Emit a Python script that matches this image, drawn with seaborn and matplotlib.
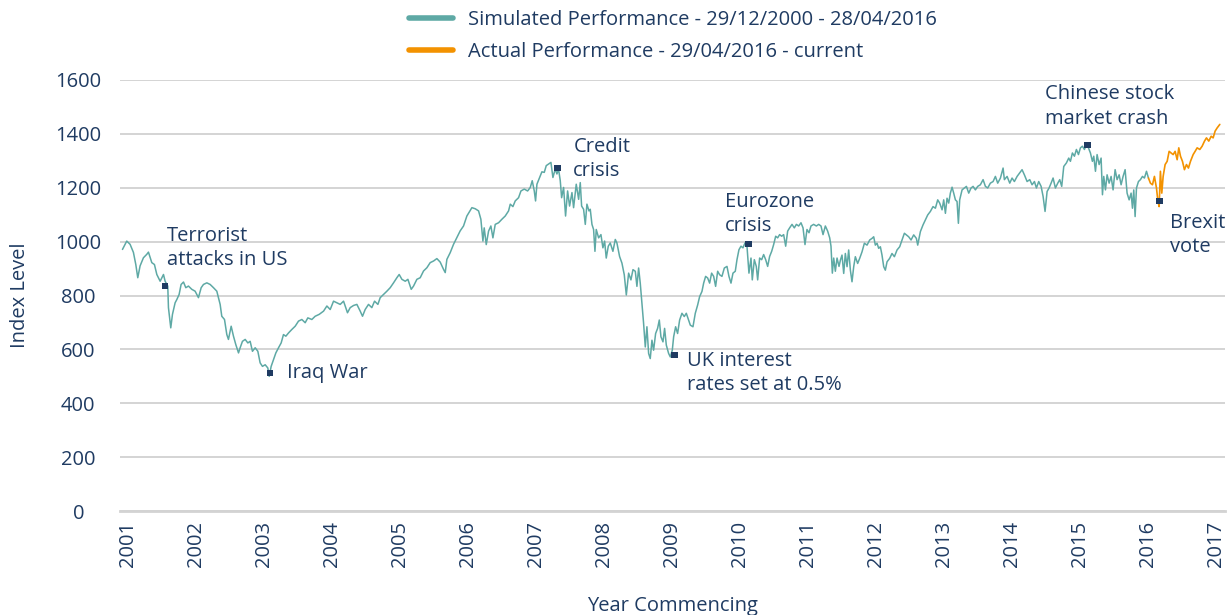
import numpy as np
import pandas as pd
import seaborn as sns
import matplotlib.pyplot as plt
from matplotlib.lines import Line2D

# index levels; t = position on the year axis (0 = "2001" tick)
sim_t = [-0.083, -0.020, 0.029, 0.078, 0.113, 0.142, 0.176, 0.225, 0.275, 0.299,
         0.348, 0.387, 0.422, 0.471, 0.520, 0.544, 0.583, 0.593, 0.627, 0.652,
         0.691, 0.716, 0.750, 0.779, 0.814, 0.848, 0.887, 0.936, 0.985, 1.034,
         1.074, 1.108, 1.157, 1.206, 1.255, 1.304, 1.353, 1.377, 1.417, 1.451,
         1.475, 1.515, 1.549, 1.583, 1.623, 1.647, 1.681, 1.721, 1.760, 1.794,
         1.828, 1.868, 1.907, 1.941, 1.975, 2.015, 2.054, 2.074, 2.103, 2.137,
         2.172, 2.211, 2.250, 2.284, 2.319, 2.358, 2.407, 2.456, 2.505, 2.554,
         2.603, 2.642, 2.701, 2.750, 2.809, 2.873, 2.922, 2.971, 3.020, 3.069,
         3.118, 3.167, 3.225, 3.265, 3.314, 3.363, 3.412, 3.446, 3.485, 3.534,
         3.583, 3.623, 3.672, 3.706, 3.755, 3.804, 3.853, 3.902, 3.951, 3.985,
         4.025, 4.074, 4.113, 4.162, 4.196, 4.245, 4.294, 4.343, 4.392, 4.441,
         4.490, 4.539, 4.588, 4.637, 4.662, 4.686, 4.735, 4.784, 4.833, 4.882,
         4.931, 4.980,
         5.054, 5.103, 5.152, 5.186, 5.216, 5.235, 5.265, 5.299, 5.333, 5.363,
         5.397, 5.446, 5.495, 5.544, 5.593, 5.618, 5.657, 5.691, 5.740, 5.775,
         5.824, 5.873, 5.912, 5.941, 5.971, 5.990, 6.010, 6.049, 6.083, 6.118,
         6.147, 6.181, 6.216, 6.245, 6.279, 6.304, 6.328, 6.353, 6.373, 6.402,
         6.431, 6.461, 6.490, 6.525, 6.549, 6.588, 6.623, 6.647, 6.667, 6.696,
         6.721, 6.745, 6.775, 6.794, 6.819, 6.843, 6.863, 6.882, 6.917, 6.951,
         6.980, 7.005, 7.029, 7.059, 7.088, 7.127, 7.162, 7.186, 7.225, 7.260,
         7.294, 7.324, 7.358, 7.392, 7.422, 7.456, 7.480, 7.505, 7.529, 7.554,
         7.578, 7.603, 7.627, 7.652, 7.676, 7.701, 7.725, 7.755, 7.784, 7.809,
         7.833, 7.863, 7.887, 7.912, 7.946, 7.971, 8.000, 8.020, 8.049, 8.078,
         8.108, 8.142, 8.176, 8.206, 8.240, 8.265, 8.304, 8.338, 8.373, 8.402,
         8.436, 8.461, 8.490, 8.520, 8.549, 8.578, 8.608, 8.637, 8.667, 8.696,
         8.730, 8.765, 8.804, 8.833, 8.863, 8.892, 8.926, 8.951, 8.980, 9.010,
         9.039, 9.069, 9.098, 9.127, 9.157, 9.176, 9.206, 9.235, 9.255, 9.284,
         9.314, 9.343, 9.373, 9.402, 9.431, 9.461, 9.490, 9.520, 9.549, 9.578,
         9.608, 9.637, 9.667, 9.696, 9.725, 9.760, 9.794, 9.824, 9.858, 9.892,
         9.922, 9.951, 9.980, 10.010, 10.039, 10.078, 10.118, 10.152, 10.186, 10.216,
         10.250, 10.284, 10.314, 10.333, 10.353, 10.373, 10.397, 10.422, 10.451,
         10.471, 10.495, 10.520, 10.544, 10.569, 10.593, 10.618, 10.642, 10.667, 10.691,
         10.725, 10.755, 10.789, 10.824, 10.863, 10.902, 10.936, 10.961, 10.985, 11.010,
         11.034, 11.059, 11.083, 11.108, 11.132, 11.157, 11.196, 11.230, 11.265, 11.304,
         11.343, 11.377, 11.412, 11.441, 11.475, 11.510, 11.549, 11.588, 11.608, 11.647,
         11.686, 11.721, 11.755, 11.794, 11.833, 11.868, 11.902, 11.931, 11.966, 11.990,
         12.015, 12.039, 12.064, 12.088, 12.113, 12.137, 12.162, 12.186, 12.206, 12.225,
         12.260, 12.294, 12.324, 12.358, 12.392, 12.422, 12.456, 12.490, 12.529, 12.569,
         12.603, 12.637, 12.676, 12.716, 12.750, 12.784, 12.824, 12.863, 12.882, 12.922,
         12.961, 12.995, 13.029, 13.069, 13.108, 13.142, 13.176, 13.216, 13.255, 13.289,
         13.324, 13.353, 13.387, 13.422, 13.451, 13.480, 13.510, 13.539, 13.569, 13.598,
         13.632, 13.667, 13.696, 13.725, 13.755, 13.794, 13.828, 13.853, 13.882, 13.912,
         13.941, 13.971, 14.000, 14.029, 14.059, 14.088, 14.118, 14.147, 14.176, 14.196,
         14.221, 14.245, 14.275, 14.304, 14.324, 14.343, 14.368, 14.392, 14.422, 14.451,
         14.480, 14.510, 14.539, 14.569, 14.598, 14.627, 14.657, 14.686, 14.716, 14.745,
         14.765, 14.784, 14.804, 14.824, 14.853, 14.882, 14.912, 14.941, 14.971, 15.000]
sim_level = [971, 1002, 990, 960, 915, 866, 910, 940, 953, 961,
             922, 915, 878, 853, 878, 853, 835, 755, 680, 730,
             773, 785, 804, 841, 850, 829, 835, 823, 816, 792,
             829, 841, 847, 841, 829, 816, 767, 723, 711, 655,
             637, 686, 649, 618, 587, 606, 630, 637, 624, 630,
             593, 606, 593, 550, 537, 543, 531, 500, 537, 562,
             587, 606, 624, 655, 649, 661, 674, 686, 705, 711,
             699, 717, 711, 723, 730, 742, 761, 748, 779, 773,
             767, 779, 736, 755, 763, 767, 742, 723, 748, 767,
             755, 779, 767, 792, 804, 816, 829, 847, 866, 878,
             860, 853, 860, 823, 835, 860, 866, 891, 903, 922,
             928, 937, 924, 897, 885, 934, 959, 990, 1015, 1040,
             1058, 1095,
             1126, 1122, 1114, 1083, 1002, 1051, 989, 1039, 1058, 1014,
             1064, 1070, 1083, 1095, 1114, 1139, 1130, 1151, 1163, 1188,
             1195, 1188, 1201, 1226, 1188, 1151, 1213, 1238, 1259, 1257,
             1282, 1288, 1294, 1238, 1269, 1251, 1269, 1226, 1163, 1201,
             1095, 1188, 1132, 1182, 1126, 1213, 1157, 1219, 1132, 1120,
             1064, 1139, 1114, 1120, 1064, 1045, 964, 1045, 1014, 1026,
             977, 1002, 939, 983, 995, 964, 1008, 995, 945, 920,
             877, 802, 883, 858, 896, 890, 834, 902, 846, 771,
             697, 609, 684, 585, 566, 634, 597, 659, 678, 709,
             647, 628, 678, 616, 585, 572, 597, 647, 684, 659,
             709, 734, 722, 734, 709, 690, 684, 734, 765, 796,
             815, 846, 871, 865, 846, 883, 871, 834, 890, 877,
             871, 902, 908, 871, 846, 883, 890, 933, 970, 983,
             977, 995, 983, 883, 939, 858, 933, 908, 858, 939,
             933, 952, 933, 908, 945, 964, 989, 1020, 1014, 1026,
             1020, 1026, 983, 1039, 1051, 1064, 1051, 1064, 1058, 1070,
             1051, 989, 1045, 1033, 1058, 1064, 1058, 1064, 1058, 1026,
             1058, 1039, 1014, 983, 883, 939, 890, 939, 908,
             931, 950, 882, 956, 907, 969, 894, 851, 907, 944,
             919, 938, 962, 994, 987, 1006, 1012, 1018, 987, 994,
             975, 981, 950, 907, 894, 925, 938, 956, 944, 969,
             981, 1006, 1031, 1025, 1018, 1006, 1025, 1012, 987, 1037,
             1062, 1081, 1099, 1112, 1130, 1124, 1155, 1143, 1118, 1155,
             1105, 1161, 1143, 1180, 1202, 1180, 1155, 1149, 1068, 1155,
             1192, 1199, 1205, 1180, 1199, 1205, 1192, 1205, 1211, 1230,
             1205, 1199, 1217, 1223, 1242, 1217, 1236, 1273, 1230, 1242,
             1217, 1236, 1223, 1242, 1255, 1267, 1248, 1223, 1230, 1211,
             1223, 1199, 1223, 1205, 1168, 1112, 1186, 1199, 1217, 1236,
             1199, 1217, 1230, 1205, 1279, 1292, 1310, 1298, 1329, 1317,
             1342, 1323, 1348, 1354, 1342, 1360, 1348, 1329, 1298, 1317,
             1261, 1323, 1286, 1310, 1174, 1242, 1192, 1248, 1217, 1242,
             1192, 1267, 1230, 1248, 1211, 1242, 1267, 1180, 1155, 1180,
             1124, 1192, 1093, 1199, 1223, 1230, 1242, 1236, 1261, 1236]

act_t = [15.000, 15.029, 15.059, 15.088, 15.118, 15.137, 15.157, 15.176, 15.196, 15.216,
         15.245, 15.275, 15.304, 15.333, 15.363, 15.392, 15.422, 15.446, 15.471, 15.500,
         15.529, 15.559, 15.588, 15.618, 15.657, 15.686, 15.716, 15.755, 15.789, 15.824,
         15.853, 15.887, 15.922, 15.951, 15.980, 16.010, 16.049]
act_level = [1236, 1217, 1211, 1242, 1199, 1155, 1130, 1261, 1180, 1242,
             1286, 1298, 1335, 1329, 1323, 1335, 1304, 1348, 1317, 1298,
             1267, 1286, 1273, 1298, 1323, 1335, 1348, 1342, 1354, 1373,
             1385, 1373, 1391, 1385, 1410, 1422, 1435]

event_names = ['Terrorist\nattacks in US', 'Iraq War', 'Credit\ncrisis',
               'UK interest\nrates set at 0.5%', 'Eurozone\ncrisis',
               'Chinese stock\nmarket crash', 'Brexit\nvote']
event_t = [0.544, 2.088, 6.309, 8.029, 9.118, 14.103, 15.162]
event_level = [835, 512, 1273, 579, 991, 1359, 1151]
# label offsets from the marker, in pixels
event_offset = [(2, 38), (17, 0), (16, 9), (13, -18), (-23, 30), (-42, 38), (11, -34)]

year_labels = [str(y) for y in range(2001, 2018)]
level_ticks = list(range(0, 1601, 200))

navy = '#1f3b62'
teal = '#5ea9a5'
orange = '#f39200'
fs = 14.5

sns.set_theme(style='white')
plt.rcParams['font.family'] = ['Open Sans', 'DejaVu Sans']

fig, ax = plt.subplots(figsize=(12.29, 6.15), dpi=100)
fig.subplots_adjust(left=0.0976, right=0.997, top=0.870, bottom=0.169)

sim = pd.DataFrame({'t': sim_t, 'level': sim_level})
act = pd.DataFrame({'t': act_t, 'level': act_level})
sns.lineplot(data=sim, x='t', y='level', color=teal, lw=1.1, estimator=None, sort=False, ax=ax)
sns.lineplot(data=act, x='t', y='level', color=orange, lw=1.2, estimator=None, sort=False, ax=ax)
sns.scatterplot(x=event_t, y=event_level, marker='s', s=22, color=navy, edgecolor='none',
                zorder=5, ax=ax)

for name, t, v, off in zip(event_names, event_t, event_level, event_offset):
    ax.annotate(name, (t, v), xytext=off, textcoords='offset pixels', ha='left', va='center',
                fontsize=fs, color=navy, linespacing=1.32, annotation_clip=False)

ax.set_xlim(-0.12, 16.13)
ax.set_ylim(0, 1600)
ax.set_xticks(range(len(year_labels)))
ax.set_xticklabels(year_labels, rotation=90)
ax.set_yticks(level_ticks)
ax.yaxis.grid(True, color='#c9c9c9', lw=1.1)
ax.xaxis.grid(False)
for side in ['top', 'right', 'left']:
    ax.spines[side].set_visible(False)
ax.spines['bottom'].set_color('#d3d3d3')
ax.spines['bottom'].set_linewidth(2)
ax.tick_params(axis='both', length=0, labelsize=fs, labelcolor=navy)
ax.tick_params(axis='y', pad=30)
ax.tick_params(axis='x', pad=7)
for lab in ax.get_yticklabels():
    lab.set_ha('center')

ax.set_xlabel('Year Commencing', fontsize=fs, color=navy)
ax.set_ylabel('Index Level', fontsize=fs, color=navy)
ax.xaxis.set_label_coords(0.5, -0.196)
ax.yaxis.set_label_coords(-0.081, 0.5)

handles = [Line2D([], [], color=teal, lw=4, solid_capstyle='round'),
           Line2D([], [], color=orange, lw=4, solid_capstyle='round')]
fig.legend(handles, ['Simulated Performance - 29/12/2000 - 28/04/2016',
                     'Actual Performance - 29/04/2016 - current'],
           loc='upper left', bbox_to_anchor=(0.318, 1.013), frameon=False, fontsize=fs,
           labelcolor=navy, handlelength=2.2, handletextpad=0.75, labelspacing=0.58)

fig.savefig('out.png', dpi=100)
